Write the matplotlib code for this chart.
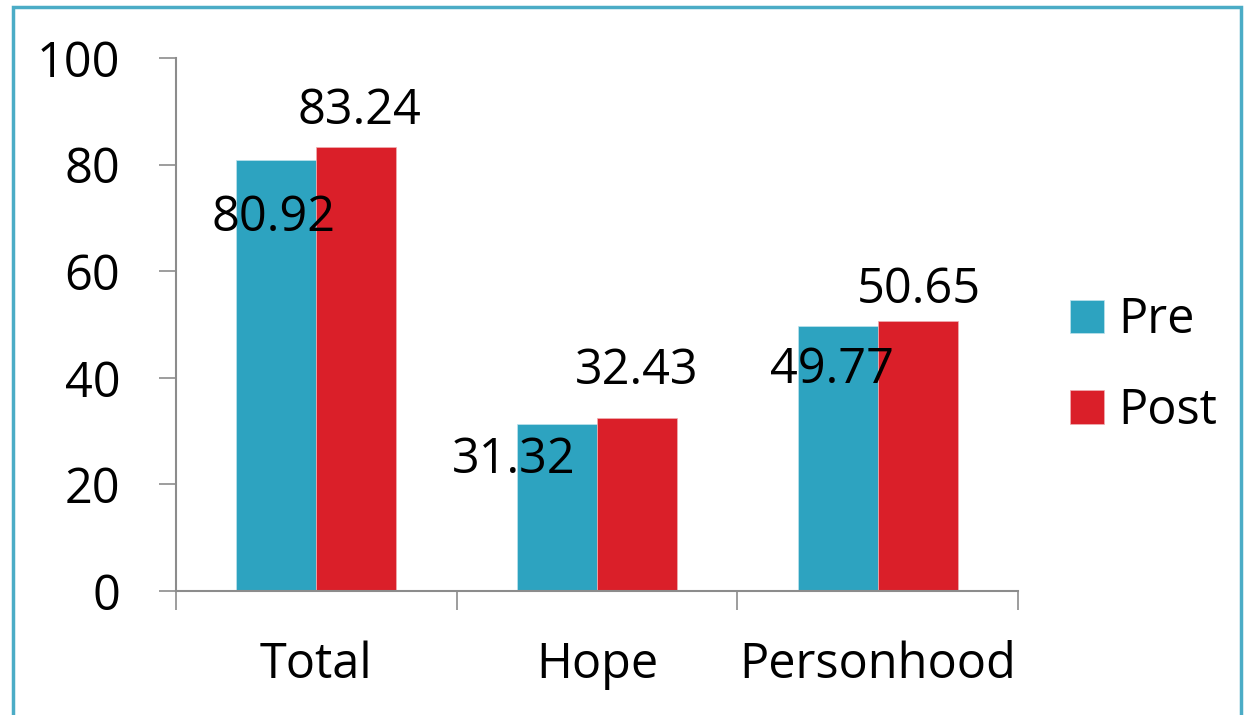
import numpy as np
import matplotlib
matplotlib.use("Agg")
import matplotlib.pyplot as plt
from matplotlib.patches import Rectangle

# data
categories = ["Total", "Hope", "Personhood"]
pre_values = [80.92, 31.32, 49.77]
post_values = [83.24, 32.43, 50.65]
series_names = ["Pre", "Post"]

pre_color = "#2DA3C0"
post_color = "#DA1F29"
grey = "#8C8C8C"

plt.rcParams["font.family"] = ["Open Sans", "DejaVu Sans"]
fs = 35

fig = plt.figure(figsize=(12.47, 7.15), dpi=100)
ax = fig.add_axes([176 / 1247, 1 - 591 / 715, (1018 - 176) / 1247, (591 - 58) / 715])

# light blue frame around the chart area
fig.patches.append(Rectangle((13 / 1247, -0.05), (1241 - 13) / 1247, 1.05 - 7 / 715,
                             transform=fig.transFigure, fill=False,
                             edgecolor="#4BACC6", linewidth=2.5))

x = np.arange(len(categories))
w = 0.285
b1 = ax.bar(x - w / 2, pre_values, w, color=pre_color, edgecolor="#bfe3ec",
            linewidth=0.5, label=series_names[0])
b2 = ax.bar(x + w / 2, post_values, w, color=post_color, edgecolor="#f0b0b3",
            linewidth=0.5, label=series_names[1])

# value labels (Excel placed them a bit irregularly)
pre_offsets = [(-2, -42), (-31, -26), (-4, -32)]
post_offsets = [(2, 26), (0, 34), (1, 22)]
for rect, v, off in zip(b1, pre_values, pre_offsets):
    ax.annotate(f"{v:.2f}", (rect.get_x() + rect.get_width() / 2, v),
                xytext=off, textcoords="offset points", ha="center", va="center",
                fontsize=fs, clip_on=False)
for rect, v, off in zip(b2, post_values, post_offsets):
    ax.annotate(f"{v:.2f}", (rect.get_x() + rect.get_width() / 2, v),
                xytext=off, textcoords="offset points", ha="center", va="center",
                fontsize=fs, clip_on=False)

ax.set_ylim(0, 100)
ax.set_xlim(-0.5, len(categories) - 0.5)
ax.set_yticks(range(0, 101, 20))
ax.tick_params(axis="y", direction="out", length=12, width=1.2, color=grey,
               labelsize=fs, pad=28)

ax.set_xticks(np.arange(-0.5, len(categories), 1.0))
ax.set_xticklabels([])
ax.set_xticks(x, minor=True)
ax.set_xticklabels(categories, minor=True, fontsize=fs)
ax.tick_params(axis="x", which="major", direction="out", length=14, width=1.2, color=grey)
ax.tick_params(axis="x", which="minor", length=0, pad=36)

for s in ["top", "right"]:
    ax.spines[s].set_visible(False)
for s in ["left", "bottom"]:
    ax.spines[s].set_color(grey)
    ax.spines[s].set_linewidth(1.5)

leg = fig.legend(handles=[b1, b2], labels=series_names, loc="center left",
                 bbox_to_anchor=(1051 / 1247, 1 - 366 / 715), frameon=False,
                 fontsize=fs, handlelength=0.68, handleheight=0.68,
                 handletextpad=0.3, labelspacing=0.85, borderaxespad=0)

fig.savefig("out.png", dpi=100)
